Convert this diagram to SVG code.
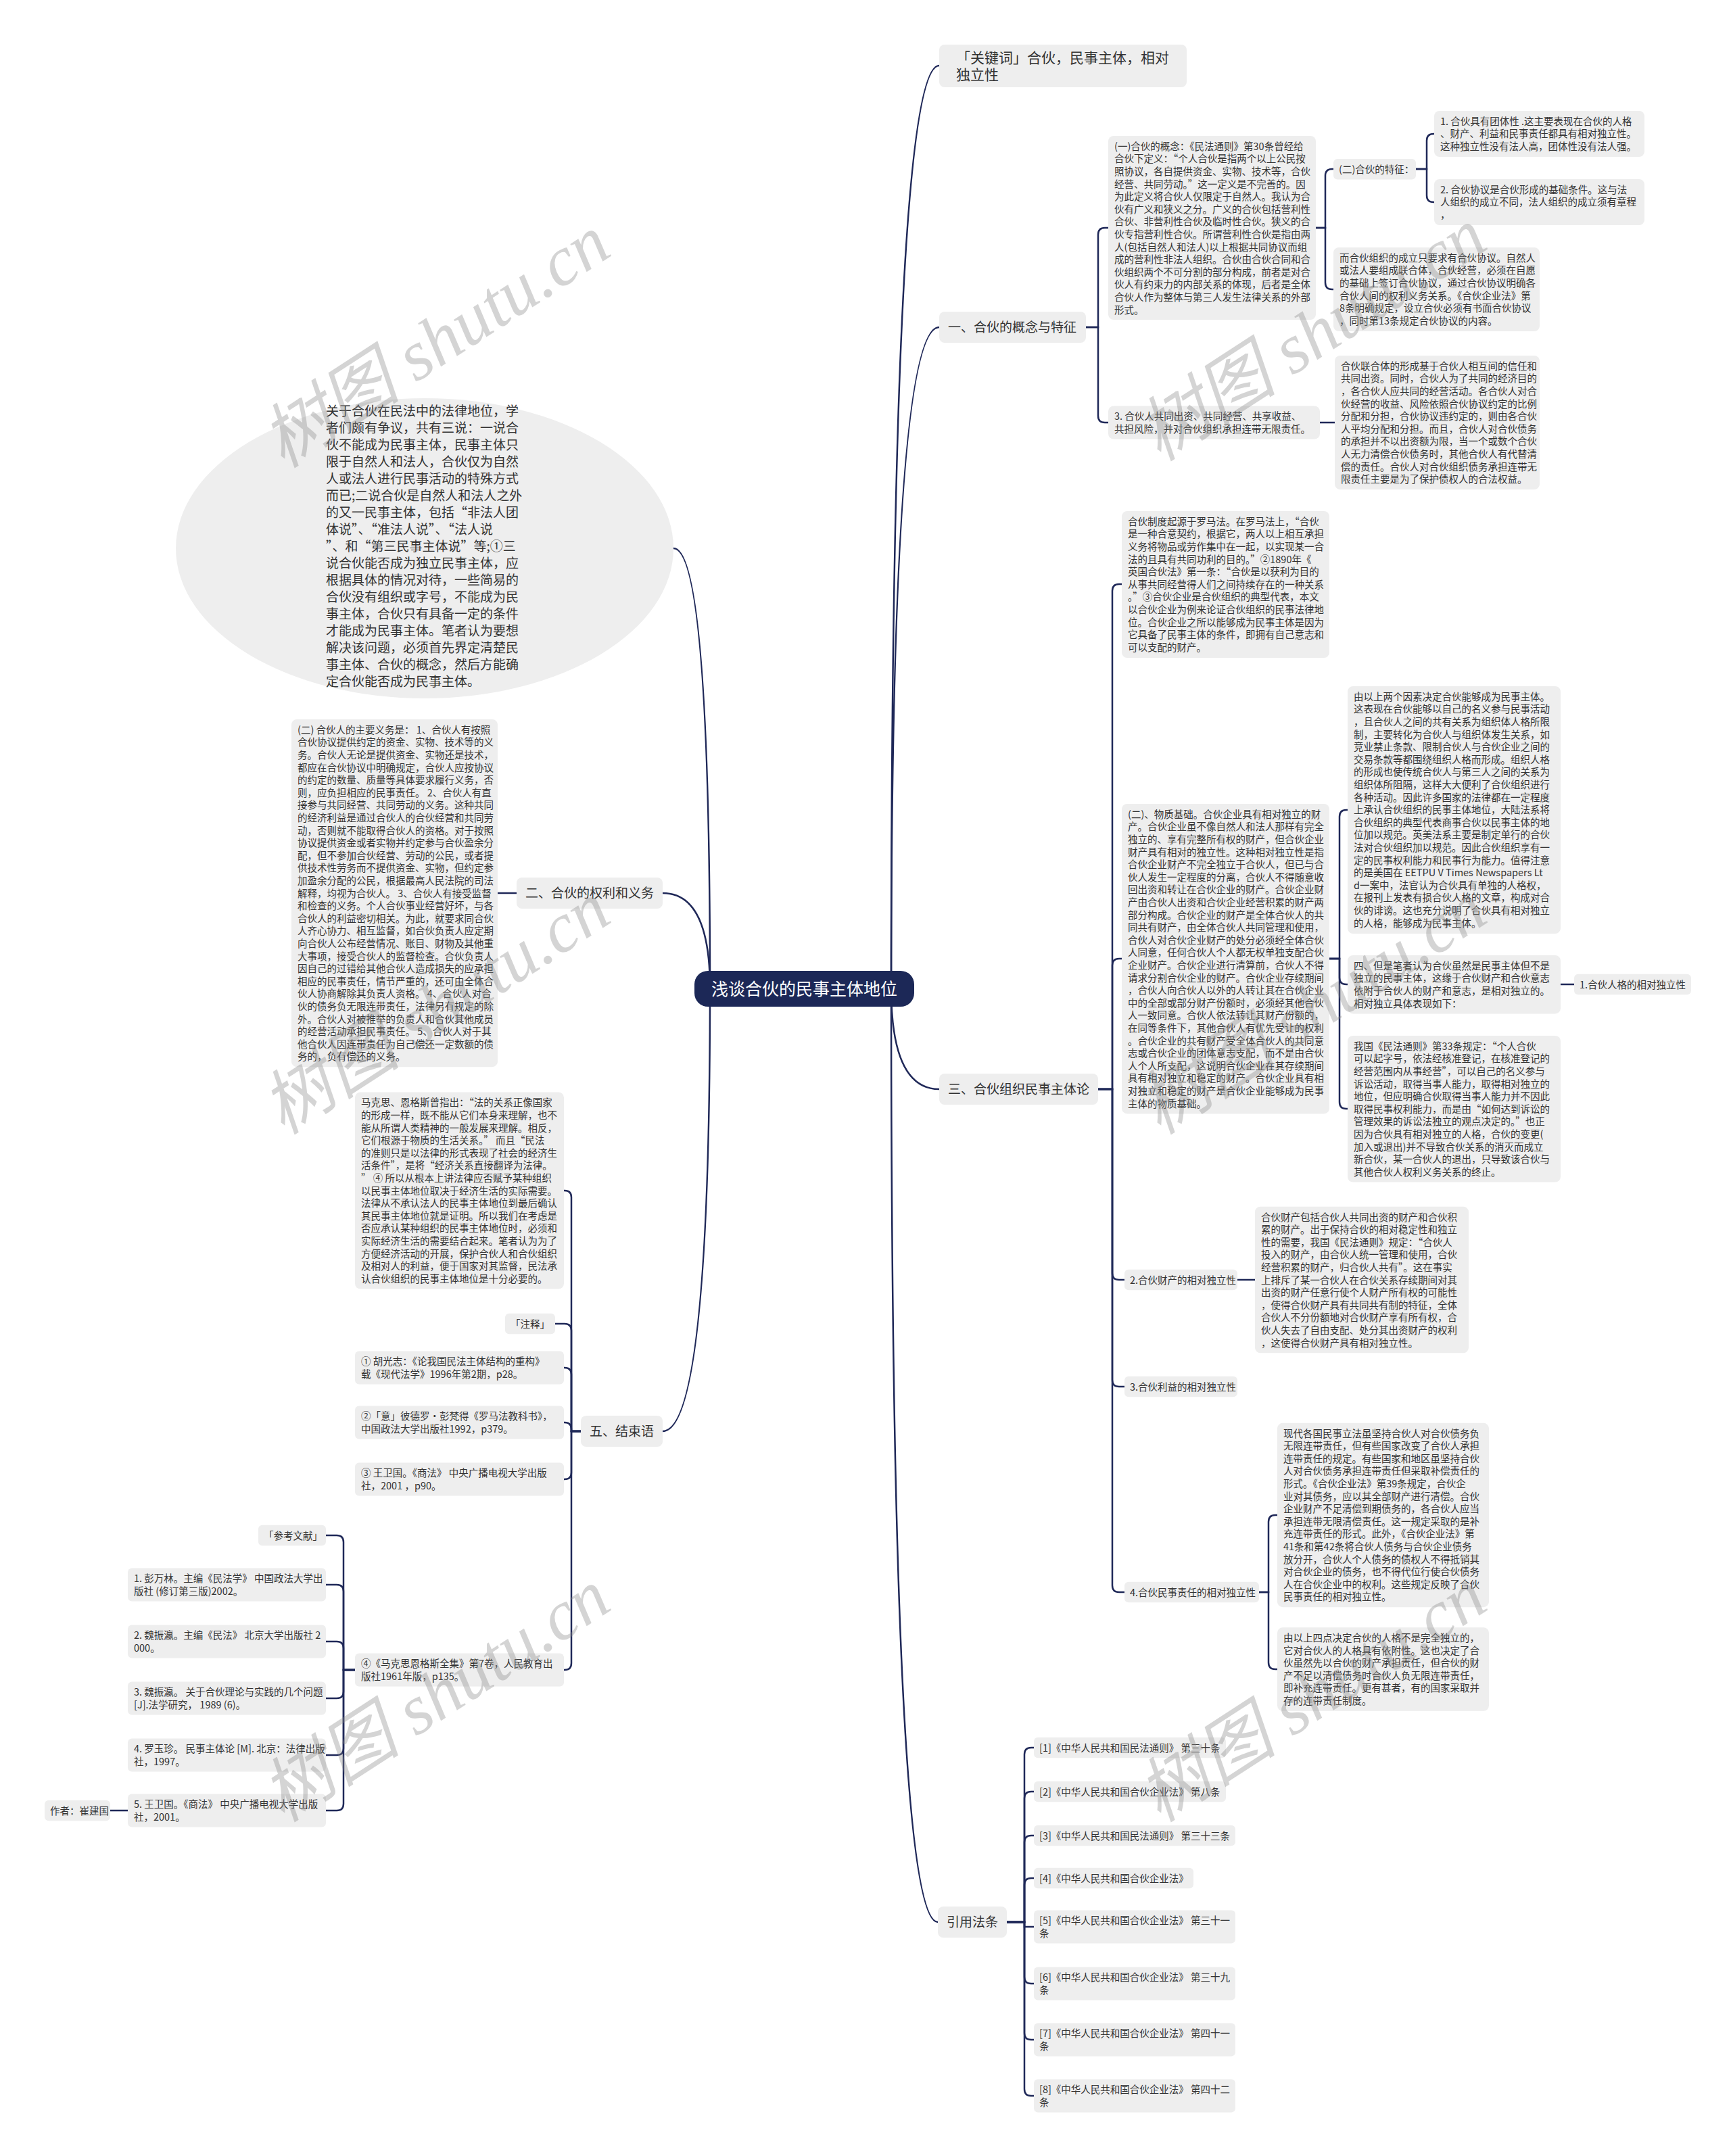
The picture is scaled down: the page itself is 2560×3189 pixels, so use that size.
<svg xmlns="http://www.w3.org/2000/svg" width="2560" height="3189" viewBox="0 0 2560 3189">
<style>
.bg{fill:#ffffff}
.box{fill:#eeeeee}
.t{font-family:"Noto Sans CJK SC","Noto Sans",sans-serif;font-size:14.5px;fill:#333333}
.t1{font-family:"Noto Sans CJK SC","Noto Sans",sans-serif;font-size:19px;fill:#333333}
.tk{font-family:"Noto Sans CJK SC","Noto Sans",sans-serif;font-size:21px;fill:#333333}
.te{font-family:"Noto Sans CJK SC","Noto Sans",sans-serif;font-size:19px;fill:#333333}
.c{fill:none;stroke:#1f2858;stroke-width:2.5;stroke-linecap:round}
.wm{font-family:"Liberation Serif","Noto Sans CJK SC",serif;font-style:italic;font-size:104px;fill:#8a8a8a;opacity:0.36}
</style>
<rect class="bg" x="0" y="0" width="2560" height="3189"/>

<g id="connectors">
<path class="c" d="M1318,1462 Q1318,97 1389,97"/>
<path class="c" d="M1318,1462 Q1318,484 1389,484"/>
<path class="c" d="M1318,1462 Q1318,1611 1389,1611"/>
<path class="c" d="M1318,1462 Q1318,2843 1387,2843"/>
<path class="c" d="M1050,1462 Q1050,811 996,811"/>
<path class="c" d="M1050,1462 Q1050,1321 980,1321"/>
<path class="c" d="M1050,1462 Q1050,2117 980,2117"/>

<path class="c" d="M1606,484 H1624 V347 Q1624,337 1634,337 H1639"/>
<path class="c" d="M1606,484 H1624 V615 Q1624,625 1634,625 H1639"/>

<path class="c" d="M1946,337 H1960 V260 Q1960,250 1970,250 H1972"/>
<path class="c" d="M1946,337 H1960 V418 Q1960,428 1970,428 H1972"/>

<path class="c" d="M2094,250 H2110 V208 Q2110,198 2120,198 H2121"/>
<path class="c" d="M2094,250 H2110 V289 Q2110,299 2120,299 H2121"/>

<path class="c" d="M1952,625 H1974"/>

<path class="c" d="M1624,1611 H1645 V874 Q1645,864 1655,864 H1659"/>
<path class="c" d="M1624,1611 H1645 V1428 Q1645,1418 1655,1418 H1659"/>
<path class="c" d="M1624,1611 H1645 V1883 Q1645,1893 1655,1893 H1663"/>
<path class="c" d="M1624,1611 H1645 V2041 Q1645,2051 1655,2051 H1663"/>
<path class="c" d="M1624,1611 H1645 V2345 Q1645,2355 1655,2355 H1663"/>

<path class="c" d="M1966,1418 H1981 V1208 Q1981,1198 1991,1198 H1993"/>
<path class="c" d="M1966,1418 H1981 V1446 Q1981,1456 1991,1456 H1993"/>
<path class="c" d="M1966,1418 H1981 V1630 Q1981,1640 1991,1640 H1993"/>

<path class="c" d="M2308,1456 H2328"/>
<path class="c" d="M1830,1893 H1856"/>

<path class="c" d="M1862,2355 H1876 V2251 Q1876,2241 1886,2241 H1889"/>
<path class="c" d="M1862,2355 H1876 V2459 Q1876,2469 1886,2469 H1889"/>

<path class="c" d="M1489,2843 H1515 V2595 Q1515,2585 1525,2585 H1529"/>
<path class="c" d="M1489,2843 H1515 V2660 Q1515,2650 1525,2650 H1529"/>
<path class="c" d="M1489,2843 H1515 V2725 Q1515,2715 1525,2715 H1529"/>
<path class="c" d="M1489,2843 H1515 V2788 Q1515,2778 1525,2778 H1529"/>
<path class="c" d="M1489,2843 H1515 V2850 H1529"/>
<path class="c" d="M1489,2843 H1515 V2924 Q1515,2934 1525,2934 H1529"/>
<path class="c" d="M1489,2843 H1515 V3007 Q1515,3017 1525,3017 H1529"/>
<path class="c" d="M1489,2843 H1515 V3090 Q1515,3100 1525,3100 H1529"/>

<path class="c" d="M764,1321 H736"/>

<path class="c" d="M859,2117 H845 V1771 Q845,1761 835,1761 H834"/>
<path class="c" d="M859,2117 H845 V1968 Q845,1958 835,1958 H821"/>
<path class="c" d="M859,2117 H845 V2033 Q845,2023 835,2023 H834"/>
<path class="c" d="M859,2117 H845 V2114 Q845,2104 835,2104 H834"/>
<path class="c" d="M859,2117 H845 V2178 Q845,2188 835,2188 H834"/>
<path class="c" d="M859,2117 H845 V2460 Q845,2470 835,2470 H834"/>

<path class="c" d="M525,2470 H508 V2281 Q508,2271 498,2271 H482"/>
<path class="c" d="M525,2470 H508 V2354 Q508,2344 498,2344 H482"/>
<path class="c" d="M525,2470 H508 V2438 Q508,2428 498,2428 H482"/>
<path class="c" d="M525,2470 H508 V2502 Q508,2512 498,2512 H482"/>
<path class="c" d="M525,2470 H508 V2586 Q508,2596 498,2596 H482"/>
<path class="c" d="M525,2470 H508 V2668 Q508,2678 498,2678 H482"/>

<path class="c" d="M189,2678 H163"/>
</g>

<g id="root">
<rect x="1027" y="1436" width="325" height="53" rx="20" fill="#1c2857"/>
<text x="1189.5" y="1472" text-anchor="middle" style="font-family:'Noto Sans CJK SC','Noto Sans',sans-serif;font-size:25px;fill:#ffffff">浅谈合伙的民事主体地位</text>
</g>

<g id="keywords">
<rect class="box" x="1389" y="66" width="366" height="63" rx="8"/>
<text class="tk" x="1414" y="93"><tspan x="1414">「关键词」合伙，民事主体，相对</tspan><tspan x="1414" dy="25">独立性</tspan></text>
</g>

<g id="b1">
<rect class="box" x="1389" y="461" width="217" height="46" rx="8"/>
<text class="t1" x="1402" y="491">一、合伙的概念与特征</text>
</g>

<g id="b1-concept">
<rect class="box" x="1639" y="201" width="307" height="272" rx="8"/>
<text class="t" x="1648" y="221.8"><tspan x="1648">(一)合伙的概念：《民法通则》第30条曾经给</tspan><tspan x="1648" dy="18.6">合伙下定义：“个人合伙是指两个以上公民按</tspan><tspan x="1648" dy="18.6">照协议，各自提供资金、实物、技术等，合伙</tspan><tspan x="1648" dy="18.6">经营、共同劳动。”这一定义是不完善的。因</tspan><tspan x="1648" dy="18.6">为此定义将合伙人仅限定于自然人。我认为合</tspan><tspan x="1648" dy="18.6">伙有广义和狭义之分。广义的合伙包括营利性</tspan><tspan x="1648" dy="18.6">合伙、非营利性合伙及临时性合伙。狭义的合</tspan><tspan x="1648" dy="18.6">伙专指营利性合伙。所谓营利性合伙是指由两</tspan><tspan x="1648" dy="18.6">人(包括自然人和法人)以上根据共同协议而组</tspan><tspan x="1648" dy="18.6">成的营利性非法人组织。合伙由合伙合同和合</tspan><tspan x="1648" dy="18.6">伙组织两个不可分割的部分构成，前者是对合</tspan><tspan x="1648" dy="18.6">伙人有约束力的内部关系的体现，后者是全体</tspan><tspan x="1648" dy="18.6">合伙人作为整体与第三人发生法律关系的外部</tspan><tspan x="1648" dy="18.6">形式。</tspan></text>
</g>

<g id="b1-features">
<rect class="box" x="1972" y="235" width="122" height="30.6" rx="6"/>
<text class="t" x="1980" y="255.8">(二)合伙的特征：</text>
</g>

<g id="b1-f1">
<rect class="box" x="2121" y="164" width="311" height="68" rx="8"/>
<text class="t" x="2130" y="184.8"><tspan x="2130">1. 合伙具有团体性 .这主要表现在合伙的人格</tspan><tspan x="2130" dy="18.6">、财产、利益和民事责任都具有相对独立性。</tspan><tspan x="2130" dy="18.6">这种独立性没有法人高，团体性没有法人强。</tspan></text>
</g>

<g id="b1-f2">
<rect class="box" x="2121" y="265" width="311" height="68" rx="8"/>
<text class="t" x="2130" y="285.8"><tspan x="2130">2. 合伙协议是合伙形成的基础条件。这与法</tspan><tspan x="2130" dy="18.6">人组织的成立不同，法人组织的成立须有章程</tspan><tspan x="2130" dy="18.6">，</tspan></text>
</g>

<g id="b1-agreement">
<rect class="box" x="1972" y="366" width="305" height="124" rx="8"/>
<text class="t" x="1981" y="386.8"><tspan x="1981">而合伙组织的成立只要求有合伙协议。自然人</tspan><tspan x="1981" dy="18.6">或法人要组成联合体，合伙经营，必须在自愿</tspan><tspan x="1981" dy="18.6">的基础上签订合伙协议，通过合伙协议明确各</tspan><tspan x="1981" dy="18.6">合伙人间的权利义务关系。《合伙企业法》第</tspan><tspan x="1981" dy="18.6">8条明确规定，设立合伙必须有书面合伙协议</tspan><tspan x="1981" dy="18.6">，同时第13条规定合伙协议的内容。</tspan></text>
</g>

<g id="b1-f3">
<rect class="box" x="1639" y="600.5" width="313" height="49" rx="8"/>
<text class="t" x="1648" y="621.3"><tspan x="1648">3. 合伙人共同出资、共同经营、共享收益、</tspan><tspan x="1648" dy="18.6">共担风险，并对合伙组织承担连带无限责任。</tspan></text>
</g>

<g id="b1-f3-detail">
<rect class="box" x="1974" y="526" width="303" height="198" rx="8"/>
<text class="t" x="1983" y="546.8"><tspan x="1983">合伙联合体的形成基于合伙人相互间的信任和</tspan><tspan x="1983" dy="18.6">共同出资。同时，合伙人为了共同的经济目的</tspan><tspan x="1983" dy="18.6">，各合伙人应共同的经营活动。各合伙人对合</tspan><tspan x="1983" dy="18.6">伙经营的收益、风险依照合伙协议约定的比例</tspan><tspan x="1983" dy="18.6">分配和分担，合伙协议违约定的，则由各合伙</tspan><tspan x="1983" dy="18.6">人平均分配和分担。而且，合伙人对合伙债务</tspan><tspan x="1983" dy="18.6">的承担并不以出资额为限，当一个或数个合伙</tspan><tspan x="1983" dy="18.6">人无力清偿合伙债务时，其他合伙人有代替清</tspan><tspan x="1983" dy="18.6">偿的责任。合伙人对合伙组织债务承担连带无</tspan><tspan x="1983" dy="18.6">限责任主要是为了保护债权人的合法权益。</tspan></text>
</g>

<g id="b3">
<rect class="box" x="1389" y="1588" width="235" height="46" rx="8"/>
<text class="t1" x="1402" y="1618">三、合伙组织民事主体论</text>
</g>

<g id="b3-origin">
<rect class="box" x="1659" y="756" width="307" height="217" rx="8"/>
<text class="t" x="1668" y="776.8"><tspan x="1668">合伙制度起源于罗马法。在罗马法上，“合伙</tspan><tspan x="1668" dy="18.6">是一种合意契约，根据它，两人以上相互承担</tspan><tspan x="1668" dy="18.6">义务将物品或劳作集中在一起，以实现某一合</tspan><tspan x="1668" dy="18.6">法的且具有共同功利的目的。”②1890年《</tspan><tspan x="1668" dy="18.6">英国合伙法》第一条：“合伙是以获利为目的</tspan><tspan x="1668" dy="18.6">从事共同经营得人们之间持续存在的一种关系</tspan><tspan x="1668" dy="18.6">。”③合伙企业是合伙组织的典型代表，本文</tspan><tspan x="1668" dy="18.6">以合伙企业为例来论证合伙组织的民事法律地</tspan><tspan x="1668" dy="18.6">位。合伙企业之所以能够成为民事主体是因为</tspan><tspan x="1668" dy="18.6">它具备了民事主体的条件，即拥有自己意志和</tspan><tspan x="1668" dy="18.6">可以支配的财产。</tspan></text>
</g>

<g id="b3-material">
<rect class="box" x="1659" y="1189" width="307" height="458.4" rx="8"/>
<text class="t" x="1668" y="1209.8"><tspan x="1668">(二)、物质基础。合伙企业具有相对独立的财</tspan><tspan x="1668" dy="18.6">产。合伙企业虽不像自然人和法人那样有完全</tspan><tspan x="1668" dy="18.6">独立的、享有完整所有权的财产，但合伙企业</tspan><tspan x="1668" dy="18.6">财产具有相对的独立性。这种相对独立性是指</tspan><tspan x="1668" dy="18.6">合伙企业财产不完全独立于合伙人，但已与合</tspan><tspan x="1668" dy="18.6">伙人发生一定程度的分离，合伙人不得随意收</tspan><tspan x="1668" dy="18.6">回出资和转让在合伙企业的财产。合伙企业财</tspan><tspan x="1668" dy="18.6">产由合伙人出资和合伙企业经营积累的财产两</tspan><tspan x="1668" dy="18.6">部分构成。合伙企业的财产是全体合伙人的共</tspan><tspan x="1668" dy="18.6">同共有财产，由全体合伙人共同管理和使用，</tspan><tspan x="1668" dy="18.6">合伙人对合伙企业财产的处分必须经全体合伙</tspan><tspan x="1668" dy="18.6">人同意，任何合伙人个人都无权单独支配合伙</tspan><tspan x="1668" dy="18.6">企业财产。合伙企业进行清算前，合伙人不得</tspan><tspan x="1668" dy="18.6">请求分割合伙企业的财产。合伙企业存续期间</tspan><tspan x="1668" dy="18.6">，合伙人向合伙人以外的人转让其在合伙企业</tspan><tspan x="1668" dy="18.6">中的全部或部分财产份额时，必须经其他合伙</tspan><tspan x="1668" dy="18.6">人一致同意。合伙人依法转让其财产份额的，</tspan><tspan x="1668" dy="18.6">在同等条件下，其他合伙人有优先受让的权利</tspan><tspan x="1668" dy="18.6">。合伙企业的共有财产受全体合伙人的共同意</tspan><tspan x="1668" dy="18.6">志或合伙企业的团体意志支配，而不是由合伙</tspan><tspan x="1668" dy="18.6">人个人所支配，这说明合伙企业在其存续期间</tspan><tspan x="1668" dy="18.6">具有相对独立和稳定的财产。合伙企业具有相</tspan><tspan x="1668" dy="18.6">对独立和稳定的财产是合伙企业能够成为民事</tspan><tspan x="1668" dy="18.6">主体的物质基础。</tspan></text>
</g>

<g id="b3-two-factors">
<rect class="box" x="1993" y="1015" width="315" height="366" rx="8"/>
<text class="t" x="2002" y="1035.8"><tspan x="2002">由以上两个因素决定合伙能够成为民事主体。</tspan><tspan x="2002" dy="18.6">这表现在合伙能够以自己的名义参与民事活动</tspan><tspan x="2002" dy="18.6">，且合伙人之间的共有关系为组织体人格所限</tspan><tspan x="2002" dy="18.6">制，主要转化为合伙人与组织体发生关系，如</tspan><tspan x="2002" dy="18.6">竞业禁止条款、限制合伙人与合伙企业之间的</tspan><tspan x="2002" dy="18.6">交易条款等都围绕组织人格而形成。组织人格</tspan><tspan x="2002" dy="18.6">的形成也使传统合伙人与第三人之间的关系为</tspan><tspan x="2002" dy="18.6">组织体所阻隔，这样大大便利了合伙组织进行</tspan><tspan x="2002" dy="18.6">各种活动。因此许多国家的法律都在一定程度</tspan><tspan x="2002" dy="18.6">上承认合伙组织的民事主体地位，大陆法系将</tspan><tspan x="2002" dy="18.6">合伙组织的典型代表商事合伙以民事主体的地</tspan><tspan x="2002" dy="18.6">位加以规范。英美法系主要是制定单行的合伙</tspan><tspan x="2002" dy="18.6">法对合伙组织加以规范。因此合伙组织享有一</tspan><tspan x="2002" dy="18.6">定的民事权利能力和民事行为能力。值得注意</tspan><tspan x="2002" dy="18.6">的是美国在 EETPU V Times Newspapers Lt</tspan><tspan x="2002" dy="18.6">d一案中，法官认为合伙具有单独的人格权，</tspan><tspan x="2002" dy="18.6">在报刊上发表有损合伙人格的文章，构成对合</tspan><tspan x="2002" dy="18.6">伙的诽谤。这也充分说明了合伙具有相对独立</tspan><tspan x="2002" dy="18.6">的人格，能够成为民事主体。</tspan></text>
</g>

<g id="b3-four">
<rect class="box" x="1993" y="1413" width="315" height="86.4" rx="8"/>
<text class="t" x="2002" y="1433.8"><tspan x="2002">四、但是笔者认为合伙虽然是民事主体但不是</tspan><tspan x="2002" dy="18.6">独立的民事主体，这缘于合伙财产和合伙意志</tspan><tspan x="2002" dy="18.6">依附于合伙人的财产和意志，是相对独立的。</tspan><tspan x="2002" dy="18.6">相对独立具体表现如下：</tspan></text>
</g>

<g id="b3-personality">
<rect class="box" x="2328" y="1440.7" width="173" height="30.6" rx="6"/>
<text class="t" x="2336" y="1461.5">1.合伙人格的相对独立性</text>
</g>

<g id="b3-art33">
<rect class="box" x="1993" y="1532" width="315" height="216.6" rx="8"/>
<text class="t" x="2002" y="1552.8"><tspan x="2002">我国《民法通则》第33条规定：“个人合伙</tspan><tspan x="2002" dy="18.6">可以起字号，依法经核准登记，在核准登记的</tspan><tspan x="2002" dy="18.6">经营范围内从事经营”，可以自己的名义参与</tspan><tspan x="2002" dy="18.6">诉讼活动，取得当事人能力，取得相对独立的</tspan><tspan x="2002" dy="18.6">地位，但应明确合伙取得当事人能力并不因此</tspan><tspan x="2002" dy="18.6">取得民事权利能力，而是由“如何达到诉讼的</tspan><tspan x="2002" dy="18.6">管理效果的诉讼法独立的观点决定的。”也正</tspan><tspan x="2002" dy="18.6">因为合伙具有相对独立的人格，合伙的变更(</tspan><tspan x="2002" dy="18.6">加入或退出)并不导致合伙关系的消灭而成立</tspan><tspan x="2002" dy="18.6">新合伙，某一合伙人的退出，只导致该合伙与</tspan><tspan x="2002" dy="18.6">其他合伙人权利义务关系的终止。</tspan></text>
</g>

<g id="b3-property">
<rect class="box" x="1663" y="1877.7" width="167" height="30.6" rx="6"/>
<text class="t" x="1671" y="1898.5">2.合伙财产的相对独立性</text>
</g>

<g id="b3-property-detail">
<rect class="box" x="1856" y="1784.7" width="316" height="216.6" rx="8"/>
<text class="t" x="1865" y="1805.5"><tspan x="1865">合伙财产包括合伙人共同出资的财产和合伙积</tspan><tspan x="1865" dy="18.6">累的财产。出于保持合伙的相对稳定性和独立</tspan><tspan x="1865" dy="18.6">性的需要，我国《民法通则》规定：“合伙人</tspan><tspan x="1865" dy="18.6">投入的财产，由合伙人统一管理和使用，合伙</tspan><tspan x="1865" dy="18.6">经营积累的财产，归合伙人共有”。这在事实</tspan><tspan x="1865" dy="18.6">上排斥了某一合伙人在合伙关系存续期间对其</tspan><tspan x="1865" dy="18.6">出资的财产任意行使个人财产所有权的可能性</tspan><tspan x="1865" dy="18.6">，使得合伙财产具有共同共有制的特征，全体</tspan><tspan x="1865" dy="18.6">合伙人不分份额地对合伙财产享有所有权，合</tspan><tspan x="1865" dy="18.6">伙人失去了自由支配、处分其出资财产的权利</tspan><tspan x="1865" dy="18.6">，这使得合伙财产具有相对独立性。</tspan></text>
</g>

<g id="b3-interest">
<rect class="box" x="1663" y="2035.7" width="167" height="30.6" rx="6"/>
<text class="t" x="1671" y="2056.5">3.合伙利益的相对独立性</text>
</g>

<g id="b3-liability">
<rect class="box" x="1663" y="2339.7" width="199" height="30.6" rx="6"/>
<text class="t" x="1671" y="2360.5">4.合伙民事责任的相对独立性</text>
</g>

<g id="b3-liability-modern">
<rect class="box" x="1889" y="2104.8" width="313" height="272.4" rx="8"/>
<text class="t" x="1898" y="2125.6"><tspan x="1898">现代各国民事立法虽坚持合伙人对合伙债务负</tspan><tspan x="1898" dy="18.6">无限连带责任，但有些国家改变了合伙人承担</tspan><tspan x="1898" dy="18.6">连带责任的规定。有些国家和地区虽坚持合伙</tspan><tspan x="1898" dy="18.6">人对合伙债务承担连带责任但采取补偿责任的</tspan><tspan x="1898" dy="18.6">形式。《合伙企业法》第39条规定，合伙企</tspan><tspan x="1898" dy="18.6">业对其债务，应以其全部财产进行清偿。合伙</tspan><tspan x="1898" dy="18.6">企业财产不足清偿到期债务的，各合伙人应当</tspan><tspan x="1898" dy="18.6">承担连带无限清偿责任。这一规定采取的是补</tspan><tspan x="1898" dy="18.6">充连带责任的形式。此外，《合伙企业法》第</tspan><tspan x="1898" dy="18.6">41条和第42条将合伙人债务与合伙企业债务</tspan><tspan x="1898" dy="18.6">放分开，合伙人个人债务的债权人不得抵销其</tspan><tspan x="1898" dy="18.6">对合伙企业的债务，也不得代位行使合伙债务</tspan><tspan x="1898" dy="18.6">人在合伙企业中的权利。这些规定反映了合伙</tspan><tspan x="1898" dy="18.6">民事责任的相对独立性。</tspan></text>
</g>

<g id="b3-liability-four">
<rect class="box" x="1889" y="2407.2" width="313" height="123.6" rx="8"/>
<text class="t" x="1898" y="2428"><tspan x="1898">由以上四点决定合伙的人格不是完全独立的，</tspan><tspan x="1898" dy="18.6">它对合伙人的人格具有依附性。这也决定了合</tspan><tspan x="1898" dy="18.6">伙虽然先以合伙的财产承担责任，但合伙的财</tspan><tspan x="1898" dy="18.6">产不足以清偿债务时合伙人负无限连带责任，</tspan><tspan x="1898" dy="18.6">即补充连带责任。更有甚者，有的国家采取并</tspan><tspan x="1898" dy="18.6">存的连带责任制度。</tspan></text>
</g>

<g id="laws">
<rect class="box" x="1387" y="2820" width="102" height="46" rx="8"/>
<text class="t1" x="1400" y="2850">引用法条</text>
</g>
<g id="law1">
<rect class="box" x="1529" y="2569.7" width="284" height="30.6" rx="6"/>
<text class="t" x="1537" y="2590.5">[1]《中华人民共和国民法通则》 第三十条</text>
</g>
<g id="law2">
<rect class="box" x="1529" y="2634.7" width="284" height="30.6" rx="6"/>
<text class="t" x="1537" y="2655.5">[2]《中华人民共和国合伙企业法》 第八条</text>
</g>
<g id="law3">
<rect class="box" x="1529" y="2699.7" width="298" height="30.6" rx="6"/>
<text class="t" x="1537" y="2720.5">[3]《中华人民共和国民法通则》 第三十三条</text>
</g>
<g id="law4">
<rect class="box" x="1529" y="2762.7" width="236" height="30.6" rx="6"/>
<text class="t" x="1537" y="2783.5">[4]《中华人民共和国合伙企业法》</text>
</g>
<g id="law5">
<rect class="box" x="1529" y="2825.4" width="298" height="49.2" rx="6"/>
<text class="t" x="1537" y="2846.2"><tspan x="1537">[5]《中华人民共和国合伙企业法》 第三十一</tspan><tspan x="1537" dy="18.6">条</tspan></text>
</g>
<g id="law6">
<rect class="box" x="1529" y="2909.4" width="298" height="49.2" rx="6"/>
<text class="t" x="1537" y="2930.2"><tspan x="1537">[6]《中华人民共和国合伙企业法》 第三十九</tspan><tspan x="1537" dy="18.6">条</tspan></text>
</g>
<g id="law7">
<rect class="box" x="1529" y="2992.4" width="298" height="49.2" rx="6"/>
<text class="t" x="1537" y="3013.2"><tspan x="1537">[7]《中华人民共和国合伙企业法》 第四十一</tspan><tspan x="1537" dy="18.6">条</tspan></text>
</g>
<g id="law8">
<rect class="box" x="1529" y="3075.4" width="298" height="49.2" rx="6"/>
<text class="t" x="1537" y="3096.2"><tspan x="1537">[8]《中华人民共和国合伙企业法》 第四十二</tspan><tspan x="1537" dy="18.6">条</tspan></text>
</g>

<g id="intro">
<ellipse class="box" cx="628" cy="811" rx="368" ry="222"/>
<text class="te" x="482" y="615"><tspan x="482">关于合伙在民法中的法律地位，学</tspan><tspan x="482" dy="25">者们颇有争议，共有三说：一说合</tspan><tspan x="482" dy="25">伙不能成为民事主体，民事主体只</tspan><tspan x="482" dy="25">限于自然人和法人，合伙仅为自然</tspan><tspan x="482" dy="25">人或法人进行民事活动的特殊方式</tspan><tspan x="482" dy="25">而已;二说合伙是自然人和法人之外</tspan><tspan x="482" dy="25">的又一民事主体，包括“非法人团</tspan><tspan x="482" dy="25">体说”、“准法人说”、“法人说</tspan><tspan x="482" dy="25">”、和“第三民事主体说”等;①三</tspan><tspan x="482" dy="25">说合伙能否成为独立民事主体，应</tspan><tspan x="482" dy="25">根据具体的情况对待，一些简易的</tspan><tspan x="482" dy="25">合伙没有组织或字号，不能成为民</tspan><tspan x="482" dy="25">事主体，合伙只有具备一定的条件</tspan><tspan x="482" dy="25">才能成为民事主体。笔者认为要想</tspan><tspan x="482" dy="25">解决该问题，必须首先界定清楚民</tspan><tspan x="482" dy="25">事主体、合伙的概念，然后方能确</tspan><tspan x="482" dy="25">定合伙能否成为民事主体。</tspan></text>
</g>

<g id="b2">
<rect class="box" x="764" y="1298" width="216" height="46" rx="8"/>
<text class="t1" x="777" y="1328">二、合伙的权利和义务</text>
</g>

<g id="b2-duties">
<rect class="box" x="431" y="1064" width="305" height="514.2" rx="8"/>
<text class="t" x="440" y="1084.8"><tspan x="440">(二) 合伙人的主要义务是： 1、合伙人有按照</tspan><tspan x="440" dy="18.6">合伙协议提供约定的资金、实物、技术等的义</tspan><tspan x="440" dy="18.6">务。合伙人无论是提供资金、实物还是技术，</tspan><tspan x="440" dy="18.6">都应在合伙协议中明确规定，合伙人应按协议</tspan><tspan x="440" dy="18.6">的约定的数量、质量等具体要求履行义务，否</tspan><tspan x="440" dy="18.6">则，应负担相应的民事责任。 2、合伙人有直</tspan><tspan x="440" dy="18.6">接参与共同经营、共同劳动的义务。这种共同</tspan><tspan x="440" dy="18.6">的经济利益是通过合伙人的合伙经营和共同劳</tspan><tspan x="440" dy="18.6">动，否则就不能取得合伙人的资格。对于按照</tspan><tspan x="440" dy="18.6">协议提供资金或者实物并约定参与合伙盈余分</tspan><tspan x="440" dy="18.6">配，但不参加合伙经营、劳动的公民，或者提</tspan><tspan x="440" dy="18.6">供技术性劳务而不提供资金、实物，但约定参</tspan><tspan x="440" dy="18.6">加盈余分配的公民，根据最高人民法院的司法</tspan><tspan x="440" dy="18.6">解释，均视为合伙人。 3、合伙人有接受监督</tspan><tspan x="440" dy="18.6">和检查的义务。个人合伙事业经营好坏，与各</tspan><tspan x="440" dy="18.6">合伙人的利益密切相关。为此，就要求同合伙</tspan><tspan x="440" dy="18.6">人齐心协力、相互监督，如合伙负责人应定期</tspan><tspan x="440" dy="18.6">向合伙人公布经营情况、账目、财物及其他重</tspan><tspan x="440" dy="18.6">大事项，接受合伙人的监督检查。合伙负责人</tspan><tspan x="440" dy="18.6">因自己的过错给其他合伙人造成损失的应承担</tspan><tspan x="440" dy="18.6">相应的民事责任，情节严重的，还可由全体合</tspan><tspan x="440" dy="18.6">伙人协商解除其负责人资格。 4、合伙人对合</tspan><tspan x="440" dy="18.6">伙的债务负无限连带责任，法律另有规定的除</tspan><tspan x="440" dy="18.6">外。合伙人对被推举的负责人和合伙其他成员</tspan><tspan x="440" dy="18.6">的经营活动承担民事责任。 5、合伙人对于其</tspan><tspan x="440" dy="18.6">他合伙人因连带责任为自己偿还一定数额的债</tspan><tspan x="440" dy="18.6">务的，负有偿还的义务。</tspan></text>
</g>

<g id="b5">
<rect class="box" x="859" y="2094" width="121" height="46" rx="8"/>
<text class="t1" x="872" y="2124">五、结束语</text>
</g>

<g id="b5-marx">
<rect class="box" x="525" y="1615.5" width="309" height="291" rx="8"/>
<text class="t" x="534" y="1636.3"><tspan x="534">马克思、恩格斯曾指出：“法的关系正像国家</tspan><tspan x="534" dy="18.6">的形成一样，既不能从它们本身来理解，也不</tspan><tspan x="534" dy="18.6">能从所谓人类精神的一般发展来理解。相反，</tspan><tspan x="534" dy="18.6">它们根源于物质的生活关系。”  而且“民法</tspan><tspan x="534" dy="18.6">的准则只是以法律的形式表现了社会的经济生</tspan><tspan x="534" dy="18.6">活条件”，是将“经济关系直接翻译为法律。</tspan><tspan x="534" dy="18.6">” ④ 所以从根本上讲法律应否赋予某种组织</tspan><tspan x="534" dy="18.6">以民事主体地位取决于经济生活的实际需要。</tspan><tspan x="534" dy="18.6">法律从不承认法人的民事主体地位到最后确认</tspan><tspan x="534" dy="18.6">其民事主体地位就是证明。所以我们在考虑是</tspan><tspan x="534" dy="18.6">否应承认某种组织的民事主体地位时，必须和</tspan><tspan x="534" dy="18.6">实际经济生活的需要结合起来。笔者认为为了</tspan><tspan x="534" dy="18.6">方便经济活动的开展，保护合伙人和合伙组织</tspan><tspan x="534" dy="18.6">及相对人的利益，便于国家对其监督，民法承</tspan><tspan x="534" dy="18.6">认合伙组织的民事主体地位是十分必要的。</tspan></text>
</g>

<g id="b5-notes">
<rect class="box" x="747" y="1942.7" width="74" height="30.6" rx="6"/>
<text class="t" x="755" y="1963.5">「注释」</text>
</g>
<g id="note1">
<rect class="box" x="525" y="1998.4" width="309" height="49.2" rx="6"/>
<text class="t" x="534" y="2019.2"><tspan x="534">① 胡光志：《论我国民法主体结构的重构》</tspan><tspan x="534" dy="18.6">载《现代法学》1996年第2期，p28。</tspan></text>
</g>
<g id="note2">
<rect class="box" x="525" y="2079.4" width="309" height="49.2" rx="6"/>
<text class="t" x="534" y="2100.2"><tspan x="534">②「意」彼德罗·彭梵得《罗马法教科书》，</tspan><tspan x="534" dy="18.6">中国政法大学出版社1992，p379。</tspan></text>
</g>
<g id="note3">
<rect class="box" x="525" y="2163.4" width="309" height="49.2" rx="6"/>
<text class="t" x="534" y="2184.2"><tspan x="534">③ 王卫国。《商法》 中央广播电视大学出版</tspan><tspan x="534" dy="18.6">社，2001 ，p90。</tspan></text>
</g>
<g id="note4">
<rect class="box" x="525" y="2445.4" width="309" height="49.2" rx="6"/>
<text class="t" x="534" y="2466.2"><tspan x="534">④《马克思恩格斯全集》第7卷，人民教育出</tspan><tspan x="534" dy="18.6">版社1961年版，p135。</tspan></text>
</g>

<g id="refs">
<rect class="box" x="382" y="2255.7" width="100" height="30.6" rx="6"/>
<text class="t" x="390" y="2276.5">「参考文献」</text>
</g>
<g id="ref1">
<rect class="box" x="189" y="2319.4" width="293" height="49.2" rx="6"/>
<text class="t" x="198" y="2340.2"><tspan x="198">1. 彭万林。主编《民法学》 中国政法大学出</tspan><tspan x="198" dy="18.6">版社 (修订第三版)2002。</tspan></text>
</g>
<g id="ref2">
<rect class="box" x="189" y="2403.4" width="293" height="49.2" rx="6"/>
<text class="t" x="198" y="2424.2"><tspan x="198">2. 魏振瀛。主编《民法》 北京大学出版社 2</tspan><tspan x="198" dy="18.6">000。</tspan></text>
</g>
<g id="ref3">
<rect class="box" x="189" y="2487.4" width="293" height="49.2" rx="6"/>
<text class="t" x="198" y="2508.2"><tspan x="198">3. 魏振瀛。 关于合伙理论与实践的几个问题</tspan><tspan x="198" dy="18.6">[J].法学研究， 1989 (6)。</tspan></text>
</g>
<g id="ref4">
<rect class="box" x="189" y="2571.4" width="293" height="49.2" rx="6"/>
<text class="t" x="198" y="2592.2"><tspan x="198">4. 罗玉珍。 民事主体论 [M]. 北京：法律出版</tspan><tspan x="198" dy="18.6">社，1997。</tspan></text>
</g>
<g id="ref5">
<rect class="box" x="189" y="2653.4" width="293" height="49.2" rx="6"/>
<text class="t" x="198" y="2674.2"><tspan x="198">5. 王卫国。《商法》 中央广播电视大学出版</tspan><tspan x="198" dy="18.6">社，2001。</tspan></text>
</g>
<g id="author">
<rect class="box" x="66" y="2662.7" width="97" height="30.6" rx="6"/>
<text class="t" x="74" y="2683.5">作者：崔建国</text>
</g>

<g id="watermarks">
<text class="wm" x="646" y="540" text-anchor="middle" transform="rotate(-33 646 508)">树图 shutu.cn</text>
<text class="wm" x="1942" y="530" text-anchor="middle" transform="rotate(-33 1942 498)">树图 shutu.cn</text>
<text class="wm" x="646" y="1526" text-anchor="middle" transform="rotate(-33 646 1494)">树图 shutu.cn</text>
<text class="wm" x="1942" y="1526" text-anchor="middle" transform="rotate(-33 1942 1494)">树图 shutu.cn</text>
<text class="wm" x="646" y="2543" text-anchor="middle" transform="rotate(-33 646 2511)">树图 shutu.cn</text>
<text class="wm" x="1942" y="2543" text-anchor="middle" transform="rotate(-33 1942 2511)">树图 shutu.cn</text>
</g>
</svg>
